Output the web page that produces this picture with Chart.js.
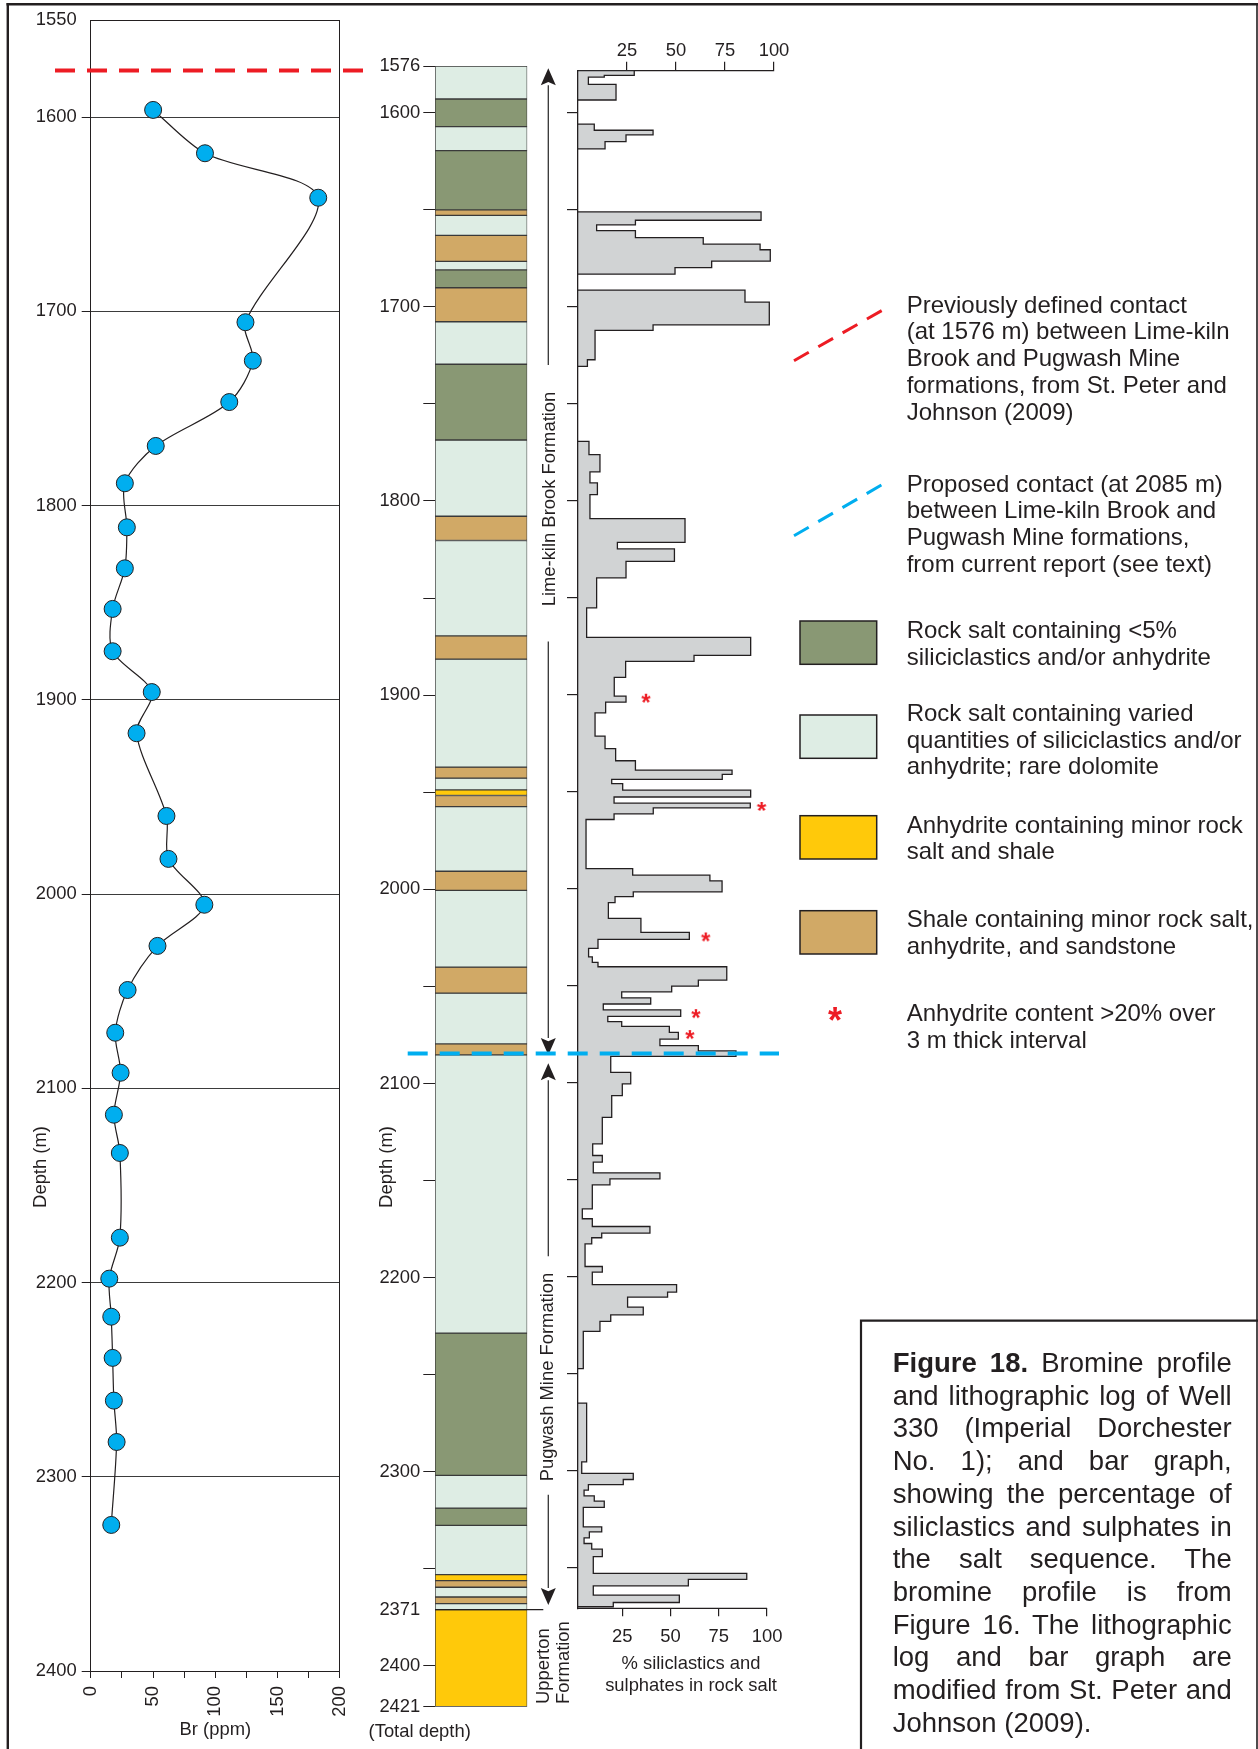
<!DOCTYPE html>
<html lang="en">
<head>
<meta charset="utf-8">
<title>Well 330 – bromine profile, lithologic log and siliciclastics bar graph</title>
<script src="https://cdn.jsdelivr.net/npm/chart.js"></script>
<style>
  html, body { margin:0; padding:0; background:#fff; }
  body { position:relative; width:1258px; height:1749px; overflow:hidden;
         font-family:'Liberation Sans', Arial, Helvetica, sans-serif; color:#231F20; }
  canvas { position:absolute; top:0; }
  #overlay { position:absolute; left:0; top:0; pointer-events:none; }
  .lbl { position:absolute; white-space:nowrap; font-size:18.4px; line-height:1.2; transform:translate(-50%,-50%); }
  .lbl.rot { transform:translate(-50%,-50%) rotate(-90deg); }
  .rotStart { position:absolute; white-space:nowrap; font-size:18.4px; line-height:1.2;
              transform-origin:0 50%; transform:translate(0,-50%) rotate(-90deg); }
  .legend { position:absolute; left:906.7px; font-size:24px; line-height:26.7px; white-space:nowrap; }
  #caption { position:absolute; left:892.7px; top:1347px; width:339px; font-size:27.5px; line-height:32.7px; }
  #caption div { text-align:justify; text-align-last:justify; }
  #caption div.last { text-align:left; text-align-last:left; }
</style>
</head>
<body>
<canvas id="brChart" width="370" height="1749" style="left:0;width:370px;height:1749px"></canvas>
<canvas id="logChart" width="240" height="1749" style="left:320px;width:240px;height:1749px"></canvas>
<canvas id="pctChart" width="400" height="1749" style="left:400px;width:400px;height:1749px"></canvas>

<svg id="overlay" width="1258" height="1749">
  <!-- page frame -->
  <line x1="6.5" y1="4.2" x2="1258" y2="4.2" stroke="#231F20" stroke-width="2.6"/>
  <line x1="7.8" y1="3" x2="7.8" y2="1749" stroke="#231F20" stroke-width="2.4"/>
  <line x1="1257" y1="3" x2="1257" y2="1749" stroke="#231F20" stroke-width="1.6"/>
  <!-- caption box -->
  <polyline points="861,1749 861,1320.7 1258,1320.7" fill="none" stroke="#231F20" stroke-width="2.2"/>
  <!-- legend symbols -->
  <line x1="794" y1="360.7" x2="882.7" y2="310" stroke="#ED1C24" stroke-width="3" stroke-dasharray="17 11"/>
  <line x1="794" y1="535.7" x2="882.7" y2="484.3" stroke="#00AEEF" stroke-width="3" stroke-dasharray="17 11"/>
  <rect x="800" y="621" width="76.7" height="43.3" fill="#899874" stroke="#231F20" stroke-width="1.5"/>
  <rect x="800" y="715" width="76.7" height="43.3" fill="#DEEDE4" stroke="#231F20" stroke-width="1.5"/>
  <rect x="800" y="815.7" width="76.7" height="43.3" fill="#FFC90A" stroke="#231F20" stroke-width="1.5"/>
  <rect x="800" y="910.7" width="76.7" height="43.3" fill="#D1A966" stroke="#231F20" stroke-width="1.5"/>
</svg>

<!-- axis titles and formation names -->
<div class="lbl rot" style="left:40px;top:1166.7px">Depth (m)</div>
<div class="lbl rot" style="left:386px;top:1166.7px">Depth (m)</div>
<div class="lbl" style="left:419.7px;top:1731px">(Total depth)</div>
<div class="lbl rot" style="left:549px;top:499px">Lime-kiln Brook Formation</div>
<div class="lbl rot" style="left:546.7px;top:1377px">Pugwash Mine Formation</div>
<div class="rotStart" style="left:543.3px;top:1704px">Upperton</div>
<div class="rotStart" style="left:563.3px;top:1704px">Formation</div>
<div class="lbl" style="left:691px;top:1663.3px">% siliclastics and</div>
<div class="lbl" style="left:691px;top:1685px">sulphates in rock salt</div>

<!-- legend -->
<div class="legend" style="top:291.7px">Previously defined contact<br>(at 1576 m) between Lime-kiln<br>Brook and Pugwash Mine<br>formations, from St. Peter and<br>Johnson (2009)</div>
<div class="legend" style="top:470.6px">Proposed contact (at 2085 m)<br>between Lime-kiln Brook and<br>Pugwash Mine formations,<br>from current report (see text)</div>
<div class="legend" style="top:617.3px">Rock salt containing &lt;5%<br>siliciclastics and/or anhydrite</div>
<div class="legend" style="top:700px">Rock salt containing varied<br>quantities of siliciclastics and/or<br>anhydrite; rare dolomite</div>
<div class="legend" style="top:811.7px">Anhydrite containing minor rock<br>salt and shale</div>
<div class="legend" style="top:906px">Shale containing minor rock salt,<br>anhydrite, and sandstone</div>
<div class="legend" style="top:1000px">Anhydrite content &gt;20% over<br>3 m thick interval</div>
<div style="position:absolute;left:815px;top:1003.4px;width:40px;text-align:center;font-size:36px;line-height:1;font-weight:bold;color:#ED1C24">*</div>

<!-- caption -->
<div id="caption">
  <div><b>Figure 18.</b> Bromine profile</div>
  <div>and lithographic log of Well</div>
  <div>330 (Imperial Dorchester</div>
  <div>No. 1); and bar graph,</div>
  <div>showing the percentage of</div>
  <div>siliclastics and sulphates in</div>
  <div>the salt sequence. The</div>
  <div>bromine profile is from</div>
  <div>Figure 16. The lithographic</div>
  <div>log and bar graph are</div>
  <div>modified from St. Peter and</div>
  <div class="last">Johnson (2009).</div>
</div>

<script>
// ---------- bromine profile (Well 330) ----------
const brDepth = [1596.3, 1618.6, 1641.5, 1705.6, 1725.4, 1746.7, 1769.3, 1788.5, 1811.2, 1832.3,
                 1853.2, 1875.0, 1896.0, 1917.2, 1959.8, 1981.9, 2005.5, 2026.7, 2049.4, 2071.4,
                 2092.0, 2113.6, 2133.3, 2176.9, 2198.0, 2217.6, 2238.8, 2260.8, 2282.1, 2324.8];
const brPpm   = [50.1, 91.7, 182.6, 124.2, 130.1, 111.2, 52.2, 27.4, 29.0, 27.4,
                 17.6, 17.6, 49.0, 36.8, 60.8, 62.4, 91.2, 53.6, 29.6, 19.7,
                 24.0, 18.6, 23.4, 23.4, 14.9, 16.5, 17.6, 18.6, 20.8, 16.5];
const brDepthTicks = [1550, 1600, 1700, 1800, 1900, 2000, 2100, 2200, 2300, 2400];
const brPpmTicks   = [0, 25, 50, 75, 100, 125, 150, 175, 200];

// ---------- lithologic log ----------
// interval tops (m); each interval runs to the next top, the last one to total depth
const litTop  = [1576, 1593, 1607.2, 1619.6, 1650.1, 1652.9, 1663.2, 1676.6, 1681.0, 1690.2,
                 1707.7, 1729.6, 1768.6, 1807.9, 1820.4, 1869.5, 1881.5, 1937.1, 1942.8, 1948.8,
                 1951.7, 1957.4, 1990.7, 2000.6, 2040.1, 2053.5, 2079.6, 2085.3, 2228.6, 2301.9,
                 2318.7, 2327.6, 2353.0, 2356.1, 2359.5, 2364.5, 2367.9, 2371];
// D = rock salt <5% impurities, L = rock salt with varied impurities, Y = anhydrite, T = shale
const litKind = ['L','D','L','D','T','L','T','L','D','T',
                 'L','D','L','T','L','T','L','T','L','Y',
                 'T','L','T','L','T','L','T','L','D','L',
                 'D','L','Y','T','L','T','L','Y'];
const TOTAL_DEPTH = 2421;
const UPPERTON_TOP = 2371;
const logDepthTicks = [1576, 1600, 1650, 1700, 1750, 1800, 1850, 1900, 1950, 2000, 2050, 2100,
                       2150, 2200, 2250, 2300, 2350, 2371, 2400, 2421];
const logLabelledTicks = [1576, 1600, 1700, 1800, 1900, 2000, 2100, 2200, 2300, 2371, 2400, 2421];

// ---------- % siliciclastics and sulphates in rock salt ----------
// step tops (m) and the value over each step; 0 = no impurities logged
const pctTop = [1578.4, 1580.8, 1581.7, 1585.4, 1593.5, 1605.9, 1609.1, 1611.5, 1615.0, 1618.7,
                1651.2, 1655.5, 1657.9, 1660.8, 1664.4, 1667.8, 1670.7, 1676.6, 1679.9, 1683.3,
                1691.5, 1697.7, 1709.4, 1712.3, 1727.4, 1730.8, 1769.5, 1776.3, 1785.2, 1790.9,
                1796.9, 1809.3, 1821.5, 1824.9, 1831.3, 1839.8, 1855.3, 1870.5, 1879.8, 1882.9,
                1891.1, 1900.8, 1903.9, 1909.4, 1921.4, 1927.9, 1934.1, 1938.9, 1941.1, 1943.7,
                1945.9, 1949.2, 1952.8, 1956.0, 1958.4, 1961.5, 1964.4, 1989.7, 1993.1, 1996.0,
                2001.7, 2004.1, 2007.2, 2015.4, 2022.6, 2026.2, 2030.8, 2035.2, 2038.0, 2040.3,
                2047.2, 2050.3, 2053.2, 2056.3, 2059.5, 2062.5, 2065.9, 2068.6, 2071.0, 2074.1,
                2077.6, 2081.0, 2083.7, 2086.5, 2094.7, 2100.7, 2106.7, 2117.9, 2131.6, 2137.6,
                2141.0, 2146.5, 2149.6, 2152.7, 2165.1, 2170.2, 2174.2, 2177.6, 2180.0, 2183.1,
                2194.8, 2197.7, 2204.2, 2208.0, 2210.6, 2215.7, 2219.7, 2223.1, 2228.2, 2247.5,
                2265.2, 2295.5, 2301.5, 2304.6, 2307.2, 2310.1, 2313.0, 2315.8, 2319.0, 2329.0,
                2331.6, 2334.7, 2337.6, 2340.5, 2344.4, 2353.0, 2356.1, 2359.4, 2364.2, 2368.0,
                2370.2];
const pctValue = [28.7, 13.4, 5.3, 19.4, 0, 8.3, 38.3, 24.5, 13.8, 0,
                  93.4, 29.3, 9.5, 29.3, 63.9, 92.9, 98.1, 68.2, 49.5, 0,
                  85.2, 97.6, 38.3, 8.7, 4.8, 0, 5.6, 11.2, 6.1, 9.9,
                  6.1, 54.6, 20.1, 49.2, 24.5, 9.5, 4.4, 88.1, 59.2, 24.3,
                  18.5, 24.5, 14.1, 8.7, 13.8, 19.2, 29.3, 78.6, 73.6, 17.2,
                  22.8, 88.1, 18.4, 87.9, 38.4, 18.4, 4.1, 27.9, 67.3, 73.5,
                  28.2, 18.9, 15.5, 32.1, 56.8, 10.2, 5.4, 7.3, 10.2, 75.9,
                  61.4, 47.8, 22.3, 37.1, 12.9, 52.4, 15.2, 22.3, 46.6, 51.2,
                  41.8, 61.4, 80.6, 16.7, 26.9, 22.6, 17.2, 12.4, 7.5, 12.4,
                  7.8, 41.8, 16.3, 7.3, 2.2, 7.3, 36.7, 12.1, 7.0, 3.6,
                  12.4, 7.3, 50.3, 45.7, 25.3, 33.3, 16.7, 11.2, 2.7, 0,
                  4.4, 1.9, 28.2, 23.1, 5.3, 3.1, 8.3, 13.4, 2.7, 12.1,
                  5.8, 3.1, 7.0, 12.4, 7.8, 86.1, 56.3, 7.8, 51.7, 18.0,
                  0];
const pctTicks = [25, 50, 75, 100];
const pctDepthTicks = [1600, 1650, 1700, 1750, 1800, 1850, 1900, 1950, 2000, 2050, 2100,
                       2150, 2200, 2250, 2300, 2350];
// intervals with >20% anhydrite over 3 m (depth, marker offset in %)
const anhydriteDepth = [1901.6, 1957.4, 2024.7, 2064.2, 2075.0];
const anhydriteMarkX = [34.7, 93.7, 65.2, 60.2, 57.1];

// formation contacts (m)
const PREVIOUS_CONTACT = 1576;
const PROPOSED_CONTACT = 2085;
// formation range arrows: [tail depth, tip depth]
const formationArrows = [[1730, 1577.2], [1872.4, 2085.3], [2189, 2089.6], [2311.9, 2368.6]];

// ---------- styling ----------
const FONT = "'Liberation Sans', Arial, Helvetica, sans-serif";
const INK = '#231F20';
const LIT_COLORS = { D: '#899874', L: '#DEEDE4', Y: '#FFC90A', T: '#D1A966' };
const AXIS_FONT = { size: 18.4, family: FONT };
Chart.defaults.font.family = FONT;
Chart.defaults.color = INK;

const fixedTicks = list => scale => { scale.ticks = list.map(v => ({ value: v })); };
const baseOptions = {
  responsive: false, animation: false, events: [],
  plugins: { legend: { display: false }, tooltip: { enabled: false } }
};

// ---------- chart 1: bromine vs depth ----------
const previousContactPlugin = {
  id: 'previousContact',
  afterDraw(chart) {
    const y = chart.scales.y.getPixelForValue(PREVIOUS_CONTACT);
    const ctx = chart.ctx;
    ctx.save();
    ctx.strokeStyle = '#ED1C24'; ctx.lineWidth = 4; ctx.setLineDash([20, 12]);
    ctx.beginPath(); ctx.moveTo(55, y); ctx.lineTo(chart.width - 7, y); ctx.stroke();
    ctx.restore();
  }
};

new Chart(document.getElementById('brChart'), {
  type: 'scatter',
  data: { datasets: [{
    data: brDepth.map((d, i) => ({ x: brPpm[i], y: d })),
    showLine: true, tension: 0.3, borderColor: INK, borderWidth: 1.2,
    pointRadius: 8.5, pointBackgroundColor: '#00AEEF', pointBorderColor: INK, pointBorderWidth: 1
  }] },
  options: {
    ...baseOptions,
    layout: { padding: { left: 0, top: 20, right: 29.3, bottom: 0 } },
    scales: {
      x: {
        type: 'linear', position: 'bottom', min: 0, max: 200,
        afterBuildTicks: fixedTicks(brPpmTicks),
        ticks: { autoSkip: false, minRotation: 90, maxRotation: 90, padding: 8, font: AXIS_FONT,
                 callback: v => (v % 50 === 0 ? String(v) : '') },
        grid: { drawOnChartArea: false, tickLength: 7, color: INK, lineWidth: 1 },
        border: { color: INK, width: 1 },
        title: { display: true, text: 'Br (ppm)', font: AXIS_FONT, padding: { top: 0, bottom: 8 } },
        afterFit: s => { s.height = 78; }
      },
      xTop: {
        type: 'linear', position: 'top', min: 0, max: 200,
        ticks: { display: false }, grid: { display: false },
        border: { color: INK, width: 1 },
        afterFit: s => { s.height = 0; }
      },
      y: {
        type: 'linear', reverse: true, min: 1550, max: 2400,
        afterBuildTicks: fixedTicks(brDepthTicks),
        ticks: { padding: 5, font: AXIS_FONT, callback: v => String(v) },
        grid: { color: '#3b3b3b', lineWidth: 1, tickLength: 9,
                tickColor: c => (c.tick && c.tick.value === 1550 ? 'rgba(0,0,0,0)' : INK) },
        border: { color: INK, width: 1 },
        afterFit: s => { s.width = 90.7; }
      },
      yRight: {
        type: 'linear', position: 'right', reverse: true, min: 1550, max: 2400,
        ticks: { display: false }, grid: { display: false },
        border: { color: INK, width: 1 },
        afterFit: s => { s.width = 0; }
      }
    }
  },
  plugins: [previousContactPlugin]
});

// ---------- chart 2: lithologic column ----------
const formationArrowPlugin = {
  id: 'formationArrows',
  afterDraw(chart) {
    const { ctx, chartArea, scales: { y } } = chart;
    const x = chartArea.right + 21;
    ctx.save();
    ctx.strokeStyle = '#333'; ctx.fillStyle = INK; ctx.lineWidth = 1.3;
    formationArrows.forEach(([tail, tip]) => {
      const y0 = y.getPixelForValue(tail), y1 = y.getPixelForValue(tip);
      const dir = Math.sign(y1 - y0), head = 17, half = 7.5;
      ctx.beginPath(); ctx.moveTo(x, y0); ctx.lineTo(x, y1 - dir * head); ctx.stroke();
      ctx.beginPath();
      ctx.moveTo(x, y1);
      ctx.lineTo(x - half, y1 - dir * head);
      ctx.lineTo(x, y1 - dir * head * 0.8);
      ctx.lineTo(x + half, y1 - dir * head);
      ctx.closePath(); ctx.fill();
    });
    // base of the salt sequence
    const yb = y.getPixelForValue(UPPERTON_TOP);
    ctx.strokeStyle = INK; ctx.lineWidth = 1.2;
    ctx.beginPath(); ctx.moveTo(chartArea.left, yb); ctx.lineTo(chartArea.right + 16, yb); ctx.stroke();
    ctx.restore();
  }
};

new Chart(document.getElementById('logChart'), {
  type: 'bar',
  data: {
    labels: ['log'],
    datasets: litTop.map((top, i) => ({
      data: [[top, i + 1 < litTop.length ? litTop[i + 1] : TOTAL_DEPTH]],
      backgroundColor: LIT_COLORS[litKind[i]],
      borderColor: '#3a3a3a', borderWidth: 1, borderSkipped: false,
      barPercentage: 1, categoryPercentage: 1
    }))
  },
  options: {
    ...baseOptions,
    layout: { padding: { left: 0, top: 66, right: 32.7, bottom: 42.3 } },
    scales: {
      x: { stacked: true, display: false },
      y: {
        type: 'linear', reverse: true, min: 1576, max: TOTAL_DEPTH,
        afterBuildTicks: fixedTicks(logDepthTicks),
        ticks: { padding: 3, font: AXIS_FONT,
                 callback: v => (logLabelledTicks.includes(v) ? String(v) : '') },
        grid: { drawOnChartArea: false, tickLength: 11.7, color: INK, lineWidth: 1,
                tickColor: c => (c.tick && c.tick.value === UPPERTON_TOP ? 'rgba(0,0,0,0)' : INK) },
        border: { display: false },
        afterFit: s => { s.width = 115; }
      }
    }
  },
  plugins: [formationArrowPlugin]
});

// ---------- chart 3: % siliciclastics and sulphates ----------
function profileBlocks() {
  const blocks = [];
  let cur = null;
  for (let i = 0; i < pctTop.length; i++) {
    const v = pctValue[i], top = pctTop[i];
    if (v > 0) {
      if (!cur) cur = [{ x: 0, y: top }];
      cur.push({ x: v, y: top }, { x: v, y: pctTop[i + 1] });
    } else if (cur) {
      cur.push({ x: 0, y: top });
      blocks.push(cur);
      cur = null;
    }
  }
  return blocks;
}

function asteriskGlyph(fontPx, boxPx) {
  const c = document.createElement('canvas');
  c.width = c.height = boxPx;
  const g = c.getContext('2d');
  g.fillStyle = '#ED1C24';
  g.font = 'bold ' + fontPx + 'px ' + FONT;
  g.textAlign = 'center';
  g.textBaseline = 'alphabetic';
  const m = g.measureText('*');
  const base = boxPx / 2 + (m.actualBoundingBoxAscent - m.actualBoundingBoxDescent) / 2;
  g.fillText('*', boxPx / 2, base);
  return c;
}

const bottomAxisPlugin = {
  id: 'bottomAxisLine',
  afterDraw(chart) {
    const { ctx, chartArea, scales: { x2 } } = chart;
    ctx.save();
    ctx.strokeStyle = INK; ctx.lineWidth = 1.3;
    ctx.beginPath();
    ctx.moveTo(chartArea.left, chartArea.bottom);
    ctx.lineTo(x2.getPixelForValue(100), chartArea.bottom);
    ctx.stroke();
    ctx.restore();
  }
};
const proposedContactPlugin = {
  id: 'proposedContact',
  afterDraw(chart) {
    const { ctx, chartArea, scales: { y } } = chart;
    const yy = y.getPixelForValue(PROPOSED_CONTACT);
    ctx.save();
    ctx.strokeStyle = '#00AEEF'; ctx.lineWidth = 4; ctx.setLineDash([20, 12]);
    ctx.beginPath(); ctx.moveTo(7.7, yy); ctx.lineTo(chartArea.right + 5, yy); ctx.stroke();
    ctx.restore();
  }
};

const profileDatasets = profileBlocks().map(b => ({
  data: b, showLine: true, fill: 'shape', tension: 0,
  backgroundColor: '#D1D3D4', borderColor: INK, borderWidth: 1.3, pointRadius: 0
}));
profileDatasets.push({
  data: anhydriteDepth.map((d, i) => ({ x: anhydriteMarkX[i], y: d })),
  showLine: false, pointStyle: asteriskGlyph(24, 16), pointRadius: 6
});

new Chart(document.getElementById('pctChart'), {
  type: 'scatter',
  data: { datasets: profileDatasets },
  options: {
    ...baseOptions,
    layout: { padding: { left: 0, top: 0, right: 26, bottom: 0 } },
    scales: {
      x: {
        type: 'linear', position: 'top', min: 0, max: 100,
        afterBuildTicks: fixedTicks(pctTicks),
        ticks: { padding: 0, font: AXIS_FONT, callback: v => String(v) },
        grid: { drawOnChartArea: false, tickLength: 9, color: INK, lineWidth: 1.2 },
        border: { color: INK, width: 1.3 },
        afterFit: s => { s.height = 70.7; }
      },
      x2: {
        type: 'linear', position: 'bottom', min: 2.07, max: 103.6,
        afterBuildTicks: fixedTicks(pctTicks),
        ticks: { padding: 10, font: AXIS_FONT, callback: v => String(v) },
        grid: { drawOnChartArea: false, tickLength: 8, color: INK, lineWidth: 1.2 },
        border: { display: false },
        afterFit: s => { s.height = 140.7; }
      },
      y: {
        type: 'linear', reverse: true, min: 1578.4, max: UPPERTON_TOP,
        afterBuildTicks: fixedTicks(pctDepthTicks),
        ticks: { display: false },
        grid: { drawOnChartArea: false, tickLength: 11, color: INK, lineWidth: 1.2 },
        border: { color: INK, width: 1.3, z: 1 },
        afterFit: s => { s.width = 178; }
      }
    }
  },
  plugins: [bottomAxisPlugin, proposedContactPlugin]
});
</script>
</body>
</html>
